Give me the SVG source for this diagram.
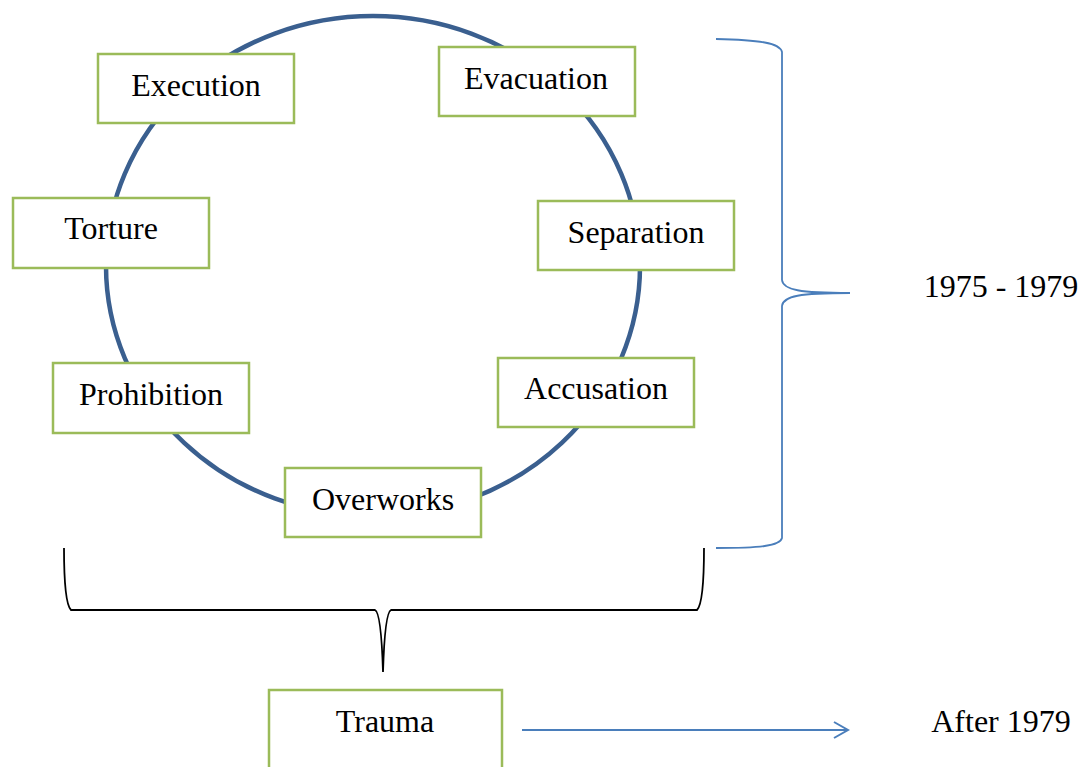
<svg xmlns="http://www.w3.org/2000/svg" width="1080" height="767" viewBox="0 0 1080 767">
<style>
.box{fill:#fff;stroke:#9bbb59;stroke-width:2.5}
.lbl{font-family:"Liberation Serif","Times New Roman",serif;font-size:32px;fill:#000;text-anchor:middle}
.blue{fill:none;stroke:#4a7ebb;stroke-width:1.8}
</style>
<defs>
<marker id="arr" viewBox="0 0 18 18" refX="16" refY="9" markerWidth="18" markerHeight="18" markerUnits="userSpaceOnUse" orient="auto">
<path d="M2,1 L16,9 L2,17" fill="none" stroke="#4a7ebb" stroke-width="2"/>
</marker>
</defs>
<rect width="1080" height="767" fill="#fff"/>
<g id="cycle">
<ellipse cx="373" cy="266" rx="267" ry="250" fill="none" stroke="#3a5f8f" stroke-width="4.5"/>
</g>
<g id="connectors">
<path class="blue" d="M716,39 C760,40 780,43 782,52 L782,280 C783,290 800,293 850,293 C800,293 783,296 782,306 L782,538 C780,546 760,548 716,548"/>
<path d="M64,548 C64,580 66,605 71,610 L375,610 C380,612 382,640 383,672 C384,640 386,612 391,610 L697,610 C702,605 704,580 704,548" fill="none" stroke="#000" stroke-width="1.8"/>
<line class="blue" x1="522" y1="730" x2="848" y2="730" stroke-width="2.2" marker-end="url(#arr)"/>
</g>
<g id="execution"><rect class="box" x="98" y="54" width="196" height="69"/><text class="lbl" x="196" y="96">Execution</text></g>
<g id="evacuation"><rect class="box" x="439" y="47" width="196" height="69"/><text class="lbl" x="536" y="89">Evacuation</text></g>
<g id="torture"><rect class="box" x="13" y="198" width="196" height="70"/><text class="lbl" x="111" y="239">Torture</text></g>
<g id="separation"><rect class="box" x="538" y="201" width="196" height="69"/><text class="lbl" x="636" y="243">Separation</text></g>
<g id="prohibition"><rect class="box" x="53" y="363" width="196" height="70"/><text class="lbl" x="151" y="405">Prohibition</text></g>
<g id="accusation"><rect class="box" x="498" y="358" width="196" height="69"/><text class="lbl" x="596" y="399">Accusation</text></g>
<g id="overworks"><rect class="box" x="285" y="468" width="196" height="69"/><text class="lbl" x="383" y="510">Overworks</text></g>
<g id="trauma"><rect class="box" x="269" y="690" width="233" height="90"/><text class="lbl" x="385" y="732">Trauma</text></g>
<g id="period1"><text class="lbl" x="1001" y="297">1975 - 1979</text></g>
<g id="period2"><text class="lbl" x="1001" y="732">After 1979</text></g>
</svg>
